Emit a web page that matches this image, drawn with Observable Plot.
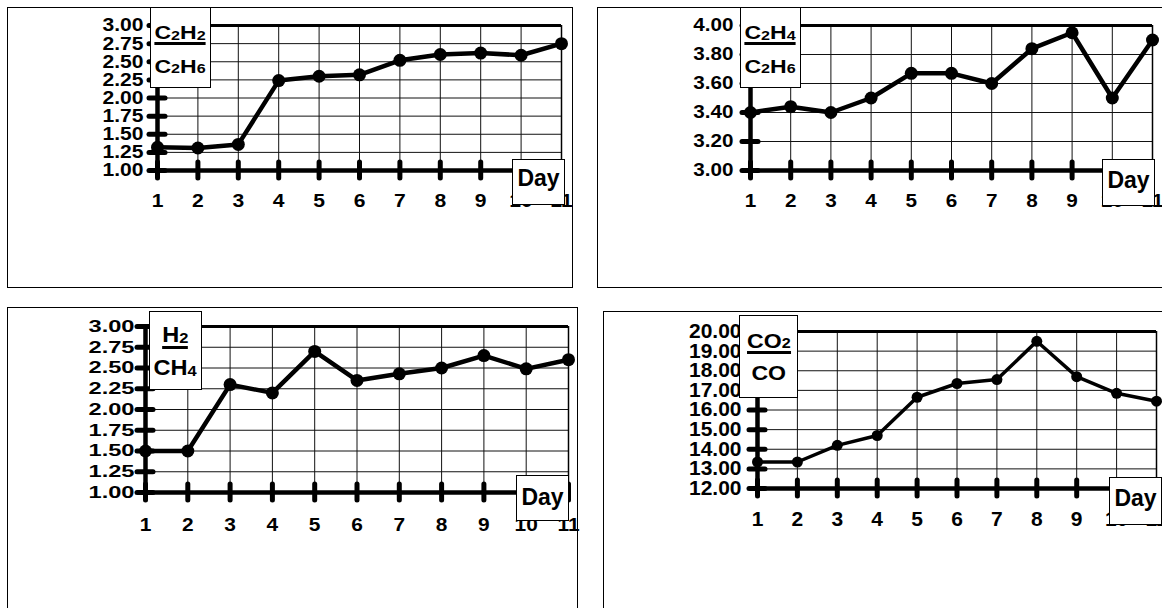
<!DOCTYPE html>
<html><head><meta charset="utf-8">
<script src="https://cdn.jsdelivr.net/npm/d3@7"></script>
<script src="https://cdn.jsdelivr.net/npm/@observablehq/plot@0.6"></script>
<style>
html,body{margin:0;padding:0;background:#fff;}
#root{position:relative;width:1162px;height:608px;overflow:hidden;font-family:"Liberation Sans",Arial,sans-serif;font-weight:bold;color:#000;}
.frame{position:absolute;border:1px solid #000;box-sizing:border-box;}
.plot{position:absolute;}
.plot svg{background:transparent;overflow:visible;}
.box{position:absolute;background:#fff;border:1px solid #000;box-sizing:border-box;}
.box .ln{position:absolute;left:0;right:0;text-align:center;line-height:1;white-space:nowrap;}
.box .ln span.t{display:inline-block;transform-origin:50% 50%;}
.box .num span.t{border-bottom:3px solid #000;}
.s{font-size:0.7em;position:relative;top:0.06em;}
.day{position:absolute;background:#fff;border:1px solid #000;box-sizing:border-box;font-size:23px;line-height:23px;text-align:center;}
</style></head>
<body><div id="root"></div>
<script>
// ---- data ----
const days = [1, 2, 3, 4, 5, 6, 7, 8, 9, 10, 11];
const ratioC2H2C2H6 = [1.32, 1.31, 1.36, 2.24, 2.30, 2.32, 2.52, 2.60, 2.62, 2.59, 2.75];
const ratioC2H4C2H6 = [3.40, 3.44, 3.40, 3.50, 3.67, 3.67, 3.60, 3.84, 3.95, 3.50, 3.90];
const ratioH2CH4    = [1.50, 1.50, 2.30, 2.20, 2.70, 2.35, 2.43, 2.50, 2.65, 2.49, 2.60];
const ratioCO2CO    = [13.35, 13.35, 14.2, 14.7, 16.65, 17.35, 17.55, 19.5, 17.7, 16.85, 16.45];
const ticksLow  = [1.00, 1.25, 1.50, 1.75, 2.00, 2.25, 2.50, 2.75, 3.00];
const ticksMid  = [3.00, 3.20, 3.40, 3.60, 3.80, 4.00];
const ticksHigh = [12, 13, 14, 15, 16, 17, 18, 19, 20];
const xLabel = "Day";

const root = document.getElementById("root");

function panel(o) {
  const data = days.map((d, i) => ({day: d, v: o.values[i]}));
  const y0 = o.ticks[0], y1 = o.ticks[o.ticks.length - 1];
  const d0 = days[0], dN = days[days.length - 1];
  return Plot.plot({
    width: o.w, height: o.h,
    marginLeft: o.ml, marginRight: o.mr, marginTop: o.mt, marginBottom: o.mb,
    x: {domain: [d0, dN]},
    y: {domain: [y0, y1]},
    style: {fontFamily: '"Liberation Sans", Arial, sans-serif', fontWeight: "bold", fontSize: o.fs + "px", color: "#000", background: "transparent", overflow: "visible"},
    marks: [
      Plot.ruleY(o.ticks.slice(1, -1), {stroke: "#111", strokeWidth: 1}),
      Plot.ruleX(days.slice(1, -1), {stroke: "#111", strokeWidth: 1}),
      Plot.ruleX([dN], {stroke: "#000", strokeWidth: 1.5}),
      Plot.ruleY([y1], {stroke: "#000", strokeWidth: 3}),
      Plot.ruleY([y0], {stroke: "#000", strokeWidth: 4.5}),
      Plot.ruleX([d0], {stroke: "#000", strokeWidth: 4.5}),
      Plot.ruleX(days, {x: d => d, y1: y0, y2: y0, insetTop: -8, insetBottom: -8, stroke: "#000", strokeWidth: 5, strokeLinecap: "round"}),
      Plot.ruleY(o.ticks, {y: d => d, x1: d0, x2: d0, insetLeft: -8, insetRight: -8, stroke: "#000", strokeWidth: 5, strokeLinecap: "round"}),
      Plot.axisY({ticks: o.ticks, tickSize: 0, tickPadding: o.yPad, tickFormat: d3.format(".2f"), label: null, fill: "#000", fontSize: o.yfs}),
      Plot.axisX({ticks: days, tickSize: 0, tickPadding: o.xPad, tickFormat: d => String(d), label: null, fill: "#000", fontSize: o.fs}),
      Plot.line(data, {x: "day", y: "v", stroke: "#000", strokeWidth: o.lw, strokeLinejoin: "round"}),
      Plot.dot(data, {x: "day", y: "v", r: o.r, fill: "#000", stroke: "none"})
    ]
  });
}

// widen glyphs horizontally (the reference lettering is stretched), keeping each label's anchor fixed
function stretchText(svg, sxFor) {
  svg.querySelectorAll("text").forEach(t => {
    const b = t.getBBox();
    const anchor = getComputedStyle(t).textAnchor;
    const sx = sxFor(anchor);
    const ax = anchor === "end" ? b.x + b.width : anchor === "middle" ? b.x + b.width / 2 : b.x;
    const tr = t.getAttribute("transform") || "";
    t.setAttribute("transform", `${tr} translate(${ax},0) scale(${sx},1) translate(${-ax},0)`);
  });
}

function addDiv(cls, css, html) {
  const el = document.createElement("div");
  el.className = cls;
  Object.assign(el.style, css);
  if (html != null) el.innerHTML = html;
  root.appendChild(el);
  return el;
}

const panels = [
  {frame: [7, 7, 566, 281], pos: [8, 8], w: 564, h: 278, ml: 149, mr: 11, mt: 17, mb: 116,
   values: ratioC2H2C2H6, ticks: ticksLow, fs: 18.5, yfs: 18.5, ysx: 1.14, xsx: 1.14, yPad: 14, xPad: 23, lw: 4.5, r: 6.5,
   box: [150, 7, 61, 81], bfs: 18, bsx: 1.28, numTop: 16.1, denTop: 49.5,
   num: 'C<span class="s">2</span>H<span class="s">2</span>', den: 'C<span class="s">2</span>H<span class="s">6</span>',
   day: [512, 159, 53, 46], dayPad: 7},
  {frame: [597, 7, 600, 281], pos: [598, 8], w: 564, h: 278, ml: 152, mr: 10, mt: 17, mb: 116,
   values: ratioC2H4C2H6, ticks: ticksMid, fs: 18.5, yfs: 17.5, ysx: 1.18, xsx: 1.12, yPad: 17, xPad: 23, lw: 4.5, r: 6.5,
   box: [740, 7, 61, 81], bfs: 18, bsx: 1.28, numTop: 16.1, denTop: 49.5,
   num: 'C<span class="s">2</span>H<span class="s">4</span>', den: 'C<span class="s">2</span>H<span class="s">6</span>',
   day: [1102, 159, 53, 47], dayPad: 8.5},
  {frame: [7, 307, 571, 400], pos: [8, 308], w: 568, h: 300, ml: 137, mr: 8, mt: 18, mb: 116,
   values: ratioH2CH4, ticks: ticksLow, fs: 19, yfs: 17, ysx: 1.39, xsx: 1.1, yPad: 11, xPad: 25, lw: 4.5, r: 6.5,
   box: [149, 311, 53, 79], bfs: 22, bsx: 1.07, numTop: 12.1, denTop: 45.4,
   num: 'H<span class="s">2</span>', den: 'CH<span class="s">4</span>',
   day: [516, 475, 53, 46], dayPad: 9.5},
  {frame: [603, 311, 600, 400], pos: [604, 312], w: 558, h: 296, ml: 153, mr: 6, mt: 19, mb: 120,
   values: ratioCO2CO, ticks: ticksHigh, fs: 20, yfs: 20, ysx: 1.05, xsx: 1.05, yPad: 16, xPad: 23, lw: 3.5, r: 5.5,
   box: [739, 315, 59, 83], bfs: 21, bsx: 1.1, numTop: 13.5, denTop: 45.5,
   num: 'CO<span class="s">2</span>', den: 'CO',
   day: [1109, 477, 53, 48], dayPad: 9}
];

for (const p of panels) {
  addDiv("frame", {left: p.frame[0] + "px", top: p.frame[1] + "px", width: p.frame[2] + "px", height: p.frame[3] + "px"});
  const holder = addDiv("plot", {left: p.pos[0] + "px", top: p.pos[1] + "px", width: p.w + "px", height: p.h + "px"});
  const svg = panel(p);
  holder.appendChild(svg);
  stretchText(svg, anchor => anchor === "end" ? p.ysx : p.xsx);
  const box = addDiv("box", {left: p.box[0] + "px", top: p.box[1] + "px", width: p.box[2] + "px", height: p.box[3] + "px", fontSize: p.bfs + "px"});
  box.innerHTML = `<div class="ln num" style="top:${p.numTop}px"><span class="t" style="transform:scaleX(${p.bsx})">${p.num}</span></div>` +
                  `<div class="ln den" style="top:${p.denTop}px"><span class="t" style="transform:scaleX(${p.bsx})">${p.den}</span></div>`;
  addDiv("day", {left: p.day[0] + "px", top: p.day[1] + "px", width: p.day[2] + "px", height: p.day[3] + "px", paddingTop: p.dayPad + "px"}, xLabel);
}
</script>
</body></html>
